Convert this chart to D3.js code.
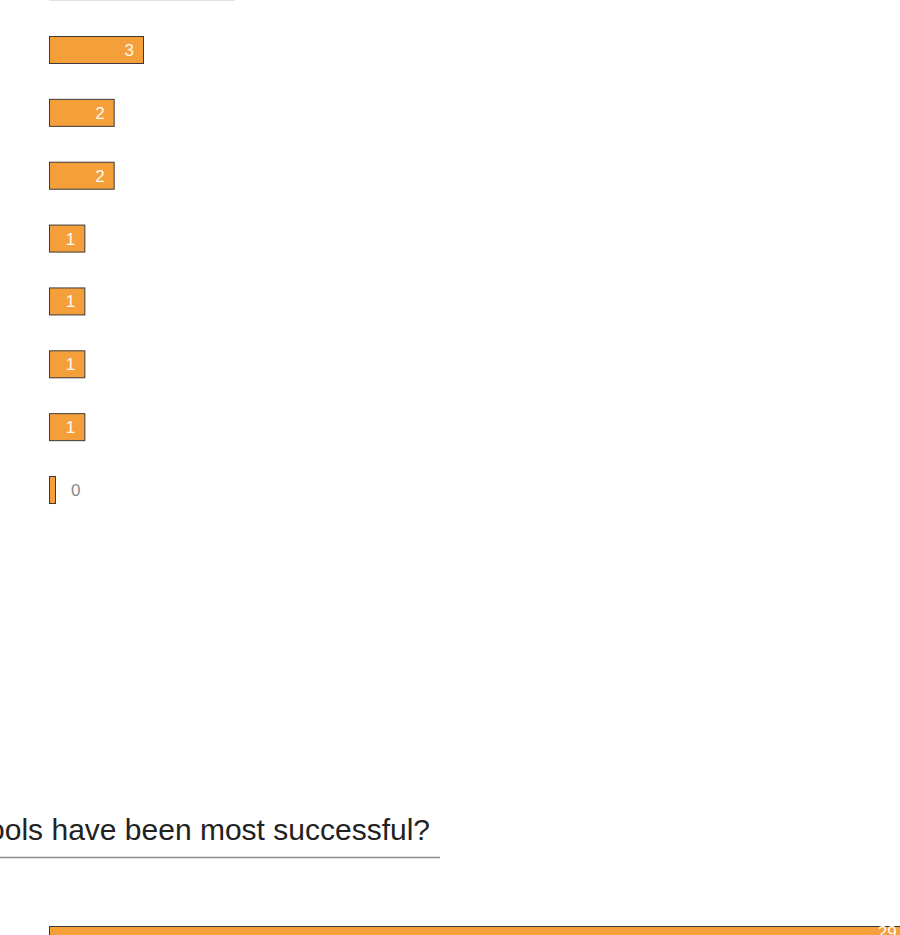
<!DOCTYPE html>
<html>
<head>
<meta charset="utf-8">
<script src="https://cdn.jsdelivr.net/npm/d3@7"></script>
<style>
  html, body { margin: 0; padding: 0; background: #fff; overflow: hidden; }
  svg { display: block; }
</style>
</head>
<body>
<svg id="chart" width="900" height="935"></svg>
<script>
// Survey answer counts for the upper question (one bar per answer option)
const categories = ["opt1", "opt2", "opt3", "opt4", "opt5", "opt6", "opt7", "opt8"];
const counts = [3, 2, 2, 1, 1, 1, 1, 0];

// Next question on the page
const nextTitle = "Which tools have been most successful?";
const nextCategories = ["tool1"];
const nextCounts = [29];

const BAR_FILL = "#F59F3A";
const BAR_STROKE = "#3a3a3a";
const FONT = "'Liberation Sans', Arial, Helvetica, sans-serif";

const svg = d3.select("#chart");
const left = 49;
const STEP = 62.86;   // row pitch
const BAR_H = 28;     // bar thickness

// Bar length scale (a zero answer still gets a thin sliver)
const x = d3.scaleLinear().domain([0, 3]).range([7, 95]);

// Row scale: n bands with pitch STEP and bar thickness BAR_H
function rowScale(cats, top) {
  const p = 1 - BAR_H / STEP;
  return d3.scaleBand()
    .domain(cats)
    .range([top, top + STEP * (cats.length - p)])
    .paddingInner(p)
    .paddingOuter(0)
    .align(0);
}

const y = rowScale(categories, 36);

// Separator from the section above
svg.append("rect")
  .attr("x", left).attr("y", -1)
  .attr("width", 186).attr("height", 2)
  .attr("fill", "#e2e2e2");

function drawBars(g, cats, vals, yScale) {
  const rows = g.selectAll("g.row")
    .data(cats.map((c, i) => ({ c, v: vals[i] })))
    .join("g")
    .attr("class", "row")
    .attr("transform", d => `translate(${left},${yScale(d.c)})`);

  rows.append("rect")
    .attr("x", 0.5).attr("y", 0.5)
    .attr("width", d => x(d.v) - 1)
    .attr("height", yScale.bandwidth() - 1)
    .attr("fill", BAR_FILL)
    .attr("stroke", BAR_STROKE)
    .attr("stroke-width", 1);

  rows.append("text")
    .attr("x", d => d.v > 0 ? x(d.v) - 10 : x(d.v) + 15)
    .attr("y", yScale.bandwidth() / 2 + 6)
    .attr("text-anchor", d => d.v > 0 ? "end" : "start")
    .attr("fill", d => d.v > 0 ? "#fffaf2" : "#8a8a8a")
    .style("font-family", FONT)
    .style("font-size", "17px")
    .text(d => d.v);
}

drawBars(svg.append("g"), categories, counts, y);

// Heading of the next question
svg.append("text")
  .attr("x", 430).attr("y", 840)
  .attr("text-anchor", "end")
  .attr("fill", "#222")
  .style("font-family", FONT)
  .style("font-size", "30px")
  .text(nextTitle);

svg.append("line")
  .attr("x1", 0).attr("x2", 440)
  .attr("y1", 857.5).attr("y2", 857.5)
  .attr("stroke", "#8a8a8a")
  .attr("stroke-width", 1.5);

const y2 = rowScale(nextCategories, 926);

drawBars(svg.append("g"), nextCategories, nextCounts, y2);
</script>
</body>
</html>
